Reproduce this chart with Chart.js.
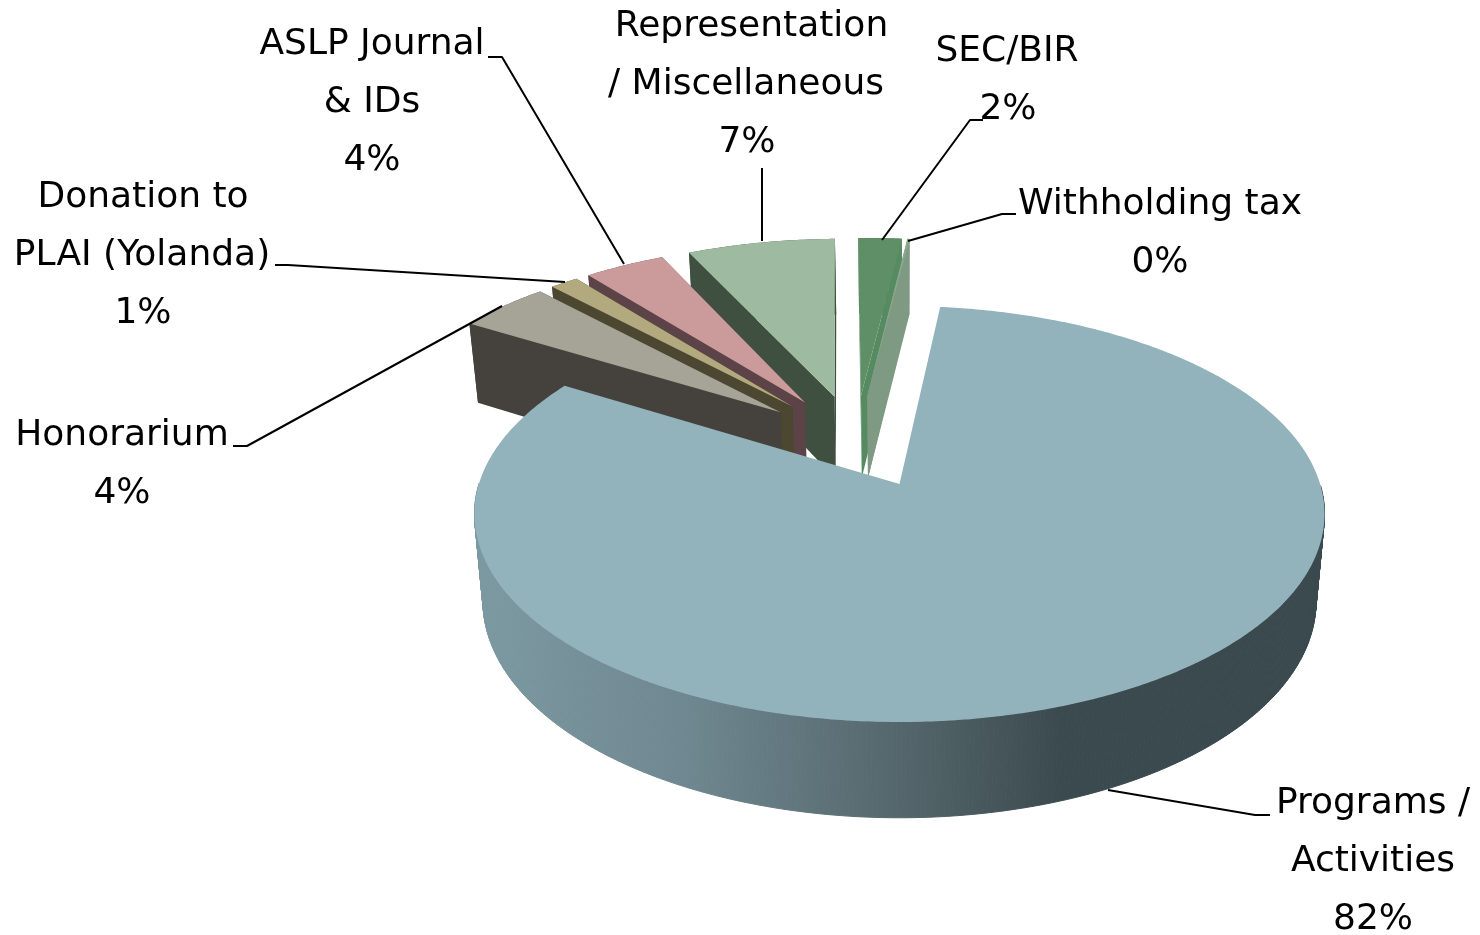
<!DOCTYPE html>
<html><head><meta charset="utf-8">
<style>html,body{margin:0;padding:0;background:#fff}canvas{display:block}</style>
<script src="https://cdn.jsdelivr.net/npm/chart.js@4"></script>
</head><body><canvas id="c" width="1480" height="935"></canvas>
<script>
const categories = ['Programs / Activities','Honorarium','Donation to PLAI (Yolanda)','ASLP Journal & IDs','Representation / Miscellaneous','SEC/BIR','Withholding tax'];
const values = [81.9,4.2,1.3,3.7,6.8,2.0,0.1];
const topColors = ['#92B2BC','#A6A497','#B3A97E','#CB9B9C','#9EBAA0','#5F8F66','#8CA68E'];
const sideColors = ['#92B2BC','#45423D','#4B4731','#5C4347','#3F5041','#568A60','#7E9A82'];
const paintOrder = [4,3,2,1,5,6,0];
const labelLines = [
  ['Programs /','Activities'],['Honorarium'],['Donation to','PLAI (Yolanda)'],['ASLP Journal','& IDs'],
  ['Representation','/ Miscellaneous'],['SEC/BIR'],['Withholding tax']];
const RADIUS = 300, EXPLODE = 0.244;
const view = {x0:899.5,y0:484,a:420.6,b:203.7,k:0.144};
const labelBoxes = [
  {xs:[1373,1373,1373],y:804},{xs:[122,122],y:436},{xs:[143,142,143],y:198},{xs:[372,372,372],y:45},
  {xs:[751.5,746,747],y:27},{xs:[1007,1008],y:52},{xs:[1160,1160],y:205}];
const leaders = [
  [[1108,790],[1255,815],[1270,815]],[[502,306],[247,446],[233,446]],[[565,282],[288,265],[275,265]],
  [[624,264],[502,57],[488,57]],[[762,241],[762,168]],[[882,240],[970,120],[983,120]],[[908,241],[1002,214],[1016,214]]];

function proj(u,v,low){
  const w=1-view.k*v;
  if(!low) return [view.x0+view.a*u/w, view.y0+view.b*v/w];
  return [view.x0+0.98*view.a*u/w, view.y0+(view.b*v+86-4*v)/w];
}
const pie3d = {
  id:'pie3d',
  beforeDatasetsDraw(chart){
    const ctx=chart.ctx, arcs=chart.getDatasetMeta(0).data;
    const main=arcs[0];
    const off=el=>{const m=(el.startAngle+el.endAngle)/2,s=(el.options.offset||0)/4/el.outerRadius;return [s*Math.cos(m),s*Math.sin(m)];};
    const mo=off(main);
    const poly=(pts)=>{ctx.beginPath();pts.forEach((p,i)=>i?ctx.lineTo(p[0],p[1]):ctx.moveTo(p[0],p[1]));ctx.closePath();};
    paintOrder.forEach(i=>{
      const el=arcs[i], o=off(el);
      const cu=o[0]-mo[0], cv=o[1]-mo[1];
      const n=Math.max(4,Math.ceil((el.endAngle-el.startAngle)/0.01));
      const rimT=[],rimB=[],rimV=[];
      for(let j=0;j<=n;j++){
        const t=el.startAngle+(el.endAngle-el.startAngle)*j/n;
        const u=cu+Math.cos(t),v=cv+Math.sin(t);
        rimT.push(proj(u,v,false));rimB.push(proj(u,v,true));rimV.push(v);
      }
      const aT=proj(cu,cv,false),aB=proj(cu,cv,true);
      let sideFill=sideColors[i];
      if(i===0){
        const g=ctx.createLinearGradient(474,0,1325,0);
        g.addColorStop(0,'#7C99A2');g.addColorStop(0.25,'#6F8790');g.addColorStop(0.52,'#526469');
        g.addColorStop(0.69,'#3B4A4F');g.addColorStop(1,'#3A494E');
        sideFill=g;
      }
      ctx.fillStyle=sideFill;ctx.strokeStyle=sideFill;ctx.lineWidth=1;
      for(let j=0;j<n;j++){
        if(i===0&&rimV[j]<0)continue;
        poly([rimT[j],rimT[j+1],rimB[j+1],rimB[j]]);ctx.fill();
        if(i===0)ctx.stroke();
      }
      if(i!==0){
        poly([aT,rimT[0],rimB[0],aB]);ctx.fill();
        poly([aT,rimT[n],rimB[n],aB]);ctx.fill();
      }
      ctx.fillStyle=topColors[i];
      poly([aT].concat(rimT));ctx.fill();
    });
    ctx.strokeStyle='#000';ctx.lineWidth=2;ctx.lineJoin='round';
    leaders.forEach(l=>{ctx.beginPath();l.forEach((p,i)=>i?ctx.lineTo(p[0],p[1]):ctx.moveTo(p[0],p[1]));ctx.stroke();});
    const total=values.reduce((a,b)=>a+b,0);
    ctx.fillStyle='#000';ctx.font='36px "DejaVu Sans"';ctx.textAlign='center';ctx.textBaseline='middle';
    categories.forEach((c,i)=>{
      const lines=labelLines[i].concat([Math.round(values[i]/total*100)+'%']);
      lines.forEach((t,j)=>ctx.fillText(t,labelBoxes[i].xs[j],labelBoxes[i].y+j*58));
    });
    return false;
  }
};
new Chart(document.getElementById('c'),{
  type:'pie',
  data:{labels:categories,datasets:[{data:values,backgroundColor:topColors,borderWidth:0,offset:4*EXPLODE*RADIUS,radius:RADIUS}]},
  options:{responsive:false,animation:false,rotation:6.35,layout:{padding:0},
    plugins:{legend:{display:false},tooltip:{enabled:false}}},
  plugins:[pie3d]
});
</script></body></html>
